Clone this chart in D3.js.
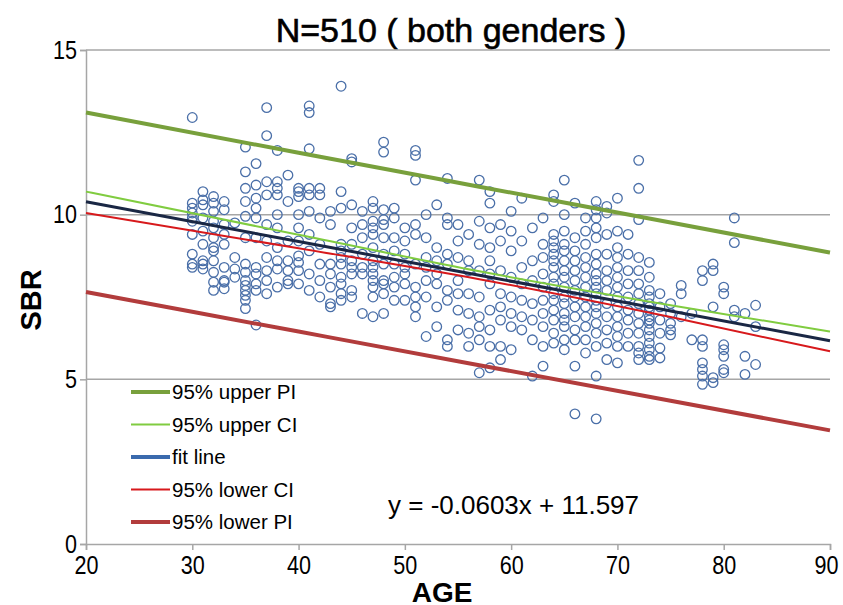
<!DOCTYPE html>
<html><head><meta charset="utf-8">
<script src="https://cdn.jsdelivr.net/npm/d3@7"></script>
<style>body{margin:0;background:#fff}svg{display:block}</style>
</head><body>
<svg id="c" width="843" height="605"></svg>
<script>
// ---- data ----
const ageGroups = [30,31,32,33,34,35,36,37,38,39,40,41,42,43,44,45,46,47,48,49,50,51,52,53,54,55,56,57,58,59,60,61,62,63,64,65,66,67,68,69,70,71,72,73,74,75,76,77,78,79,80,81,82,83];
const sbrByAge = [
 [12.95,10.35,10.2,10.05,9.9,9.8,9.4,8.8,8.5,8.4],
 [10.7,10.45,10.3,9.9,9.5,9.1,8.6,8.5,8.35],
 [10.55,10.35,10.1,9.8,9.6,9.3,9.0,8.9,8.6,8.25,7.95,7.7],
 [10.4,10.15,9.7,9.4,9.1,8.4,8.0,7.95,7.75],
 [9.75,8.7,8.35,8.1],
 [12.05,11.3,10.8,10.4,9.95,9.3,8.5,8.25,8.0,7.85,7.7,7.55,7.4,7.15],
 [11.55,10.9,10.5,10.2,9.9,9.3,8.4,8.2,7.9,7.7,6.65],
 [13.25,12.4,11.0,10.6,9.7,9.2,8.7,8.3,8.0,7.6],
 [11.95,11.0,10.8,10.6,10.0,9.6,9.0,8.6,8.35,7.8],
 [11.2,10.4,9.2,8.6,8.3,8.0,7.9],
 [10.8,10.7,10.55,10.0,9.6,9.2,8.75,8.55,8.3,7.9],
 [13.3,13.1,12.0,10.8,10.6,10.1,9.4,8.9,8.2,7.7],
 [10.8,10.6,9.9,9.1,8.5,8.0,7.5],
 [10.1,9.7,8.5,8.2,7.8,7.3,7.2],
 [13.9,10.7,10.2,9.1,8.9,8.7,8.5,8.1,7.9,7.6,7.4],
 [11.7,11.6,10.3,9.6,9.1,8.6,8.4,8.2,7.7,7.5],
 [10.1,9.7,9.3,8.8,8.4,8.2,7.0],
 [10.4,10.2,9.8,9.6,9.4,9.0,8.6,8.4,8.2,8.0,7.8,7.5,6.9],
 [12.2,11.9,10.15,9.85,9.7,9.3,8.8,8.5,8.0,7.9,7.6,7.0],
 [10.2,9.9,9.3,8.9,8.5,8.1,7.8,7.4],
 [9.6,9.2,8.8,8.4,8.2,7.9,7.4],
 [11.95,11.8,11.05,9.7,9.4,8.5,7.8,7.5,7.2,6.9],
 [10.0,9.3,8.7,8.4,8.0,7.5,6.3],
 [10.3,9.0,8.6,8.2,7.9,7.2,6.6],
 [11.1,9.9,9.7,8.8,8.5,7.7,7.4,6.2,6.0],
 [9.7,9.2,8.7,8.0,7.6,7.1,6.5],
 [9.4,8.6,8.3,7.6,7.0,6.4,6.0],
 [11.05,9.8,9.1,8.3,7.5,6.9,6.6,6.2,5.2],
 [10.7,10.35,9.6,9.0,8.6,8.2,7.9,7.1,6.5,6.0,5.35],
 [9.7,9.2,8.3,7.6,7.2,6.8,6.0,5.6],
 [10.1,9.5,8.9,8.1,7.5,7.0,6.6,5.9],
 [10.5,9.2,8.4,7.9,7.4,6.9,6.5],
 [9.6,8.6,8.0,7.3,6.8,6.2,5.1],
 [9.9,9.1,8.7,8.2,7.8,7.4,7.0,6.6,6.0,5.4],
 [10.6,10.4,9.4,9.2,9.0,8.8,8.6,8.4,8.1,7.9,7.6,7.4,7.1,6.8,6.4,6.1],
 [11.05,10.0,9.5,9.1,8.9,8.6,8.3,8.1,7.8,7.5,7.3,7.0,6.8,6.6,6.2,5.9],
 [10.35,9.3,8.9,8.6,8.3,8.0,7.7,7.5,7.2,6.9,6.5,6.2,5.4,3.95],
 [9.9,9.5,9.1,8.7,8.4,8.1,7.8,7.5,7.2,6.9,6.6,6.2,5.8],
 [10.4,10.15,9.9,9.6,9.3,8.8,8.5,8.2,8.0,7.8,7.6,7.4,7.2,7.0,6.7,6.4,6.0,5.1,3.8],
 [10.25,10.05,9.4,8.8,8.3,8.0,7.7,7.3,6.9,6.5,6.1,5.6],
 [10.5,9.5,9.0,8.7,8.4,8.1,7.8,7.5,7.2,6.9,6.6,6.3,6.0,5.5],
 [9.4,8.8,8.3,7.9,7.5,7.1,6.8,6.4,6.0],
 [11.65,10.8,9.85,8.7,8.3,7.9,7.6,7.3,7.0,6.7,6.4,6.0,5.8,5.6],
 [8.55,8.1,7.7,7.5,7.3,7.1,6.9,6.7,6.5,6.3,6.1,5.9,5.7,5.6,6.8,7.2],
 [7.6,7.2,6.8,5.95,5.65,6.4],
 [7.3,7.0,6.7,6.5,6.35],
 [7.85,7.6,6.9],
 [6.2,7.0],
 [8.3,8.0,6.2,6.0,5.5,5.3,5.1,4.85],
 [8.5,8.3,7.2,5.05,4.9],
 [7.8,7.6,6.05,5.9,5.7,5.3,5.2],
 [9.9,9.15,7.1,6.9],
 [7.0,5.7,5.15],
 [7.25,6.6,5.45]
];
const fitSlope = -0.0603, fitIntercept = 11.597;
const lineAges   = [20, 40, 57, 75, 90];
const upperPI    = [13.10, 11.88, 10.85, 9.76, 8.85];
const upperCI    = [10.70, 9.39, 8.28, 7.25, 6.45];
const lowerCI    = [10.05, 8.98, 8.04, 6.89, 5.85];
const lowerPI    = [7.65, 6.45, 5.43, 4.35, 3.45];
const xTicks = [20,30,40,50,60,70,80,90];
const yTicks = [0,5,10,15];
const legendLabels = ["95% upper PI","95% upper CI","fit line","95% lower CI","95% lower PI"];

// ---- drawing ----
const svg = d3.select("#c");
const x = d3.scaleLinear().domain([20,90]).range([86,830]);
const y = d3.scaleLinear().domain([0,15]).range([544,50]);
const grey = "#a6a6a6";
const fnt = "'Liberation Sans', Arial, sans-serif";

// gridlines
svg.append("g").selectAll("line").data(yTicks.filter(d=>d>0)).join("line")
  .attr("x1", x(20)).attr("x2", x(90)).attr("y1", d=>y(d)).attr("y2", d=>y(d))
  .attr("stroke", grey).attr("stroke-width", 1.5);

// axes
const ya = svg.append("g").attr("transform", `translate(${x(20)},0)`)
  .call(d3.axisLeft(y).tickValues(yTicks).tickSize(6).tickPadding(3));
const xa = svg.append("g").attr("transform", `translate(0,${y(0)})`)
  .call(d3.axisBottom(x).tickValues(xTicks).tickSize(6).tickPadding(6));
[ya, xa].forEach(g=>{
  g.select(".domain").attr("stroke", grey).attr("stroke-width", 1.5);
  g.selectAll(".tick line").attr("stroke", grey).attr("stroke-width", 1.5);
  g.selectAll("text").attr("font-family", fnt).attr("font-size", 26).attr("fill", "#000")
    .attr("lengthAdjust", "spacingAndGlyphs")
    .attr("textLength", d => String(d).length * 12);
});
xa.selectAll(".tick text").filter(d => d === 90).attr("dx", -4);

// points
const pts = [];
ageGroups.forEach((a,i)=>sbrByAge[i].forEach(v=>pts.push([a,v])));
svg.append("g").selectAll("circle").data(pts).join("circle")
  .attr("cx", d=>x(d[0])).attr("cy", d=>y(d[1])).attr("r", 4.8)
  .attr("fill", "none").attr("stroke", "#4a6fa8").attr("stroke-width", 1.3);

// lines
const line = d3.line().x(d=>x(d[0])).y(d=>y(d[1])).curve(d3.curveMonotoneX);
const series = [
  {vals: upperPI, color:"#78a03c", w:4},
  {vals: upperCI, color:"#80cc40", w:2},
  {vals: lineAges.map(a=>fitSlope*a+fitIntercept), color:"#1a2744", w:3},
  {vals: lowerCI, color:"#d7191c", w:2},
  {vals: lowerPI, color:"#b23c3c", w:4}
];
series.forEach(s=>{
  svg.append("path").datum(lineAges.map((a,i)=>[a,s.vals[i]]))
    .attr("d", line).attr("fill","none").attr("stroke", s.color).attr("stroke-width", s.w);
});

// legend
const legColors = ["#78a03c","#80cc40","#3a6aad","#d7191c","#b23c3c"];
const legW = [4,2,4,2,4];
const lg = svg.append("g");
legendLabels.forEach((t,i)=>{
  const yy = 392 + i*32.5;
  lg.append("line").attr("x1",131).attr("x2",170).attr("y1",yy).attr("y2",yy)
    .attr("stroke", legColors[i]).attr("stroke-width", legW[i]);
  lg.append("text").attr("x",172).attr("y",yy+7).text(t)
    .attr("font-family", fnt).attr("font-size", 20.5);
});

// equation
svg.append("text").attr("x", 388).attr("y", 514).text(`y = ${fitSlope}x + ${fitIntercept}`)
  .attr("font-family", fnt).attr("font-size", 26);

// title and axis titles
svg.append("text").attr("x", 451).attr("y", 42).attr("text-anchor","middle")
  .text("N=510 ( both genders )").attr("font-family", fnt).attr("font-size", 34)
  .attr("stroke","#000").attr("stroke-width",0.6);
svg.append("text").attr("x", 442).attr("y", 602).attr("text-anchor","middle")
  .text("AGE").attr("font-family", fnt).attr("font-size", 28).attr("font-weight","bold");
svg.append("text").attr("transform","translate(41,300) rotate(-90)").attr("text-anchor","middle")
  .text("SBR").attr("font-family", fnt).attr("font-size", 29).attr("font-weight","bold");
</script>
</body></html>
